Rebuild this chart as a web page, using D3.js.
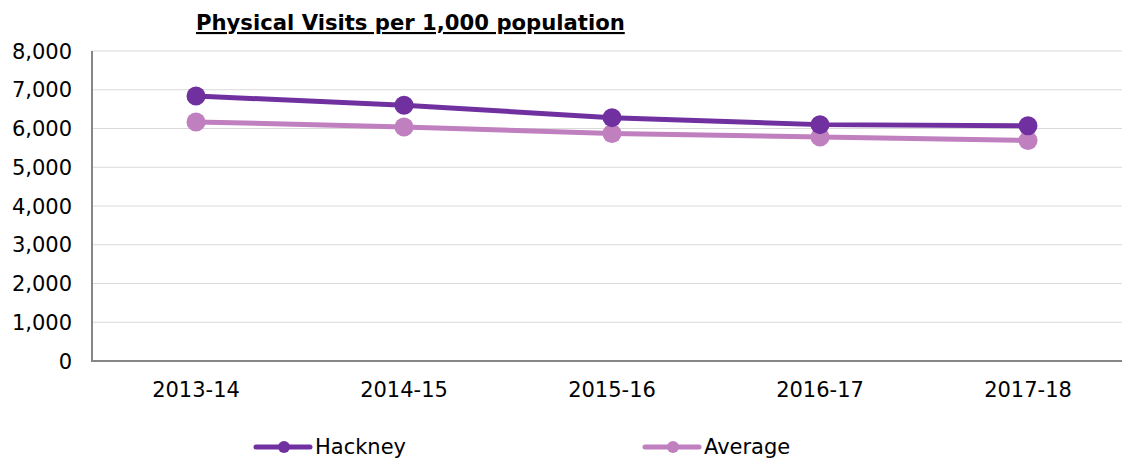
<!doctype html>
<html lang="en">
	<head>
		<meta charset="utf-8">
		<title>Physical Visits per 1,000 population</title>
		<script src="https://d3js.org/d3.v7.min.js"></script>
		<style>
			body { margin: 0; background: #fff; }
			text { font-family: 'DejaVu Sans', Verdana, sans-serif; fill: #000; }
			.grid line { stroke: #d9d9d9; stroke-width: 1; }
		</style>
	</head>
	<body>
		<div id="chart"></div>
		<script>
			let years = ['2013-14', '2014-15', '2015-16', '2016-17', '2017-18']
			let hackney = [6840, 6600, 6280, 6100, 6070]
			let average = [6170, 6040, 5870, 5780, 5690]
			let yTicks = [0, 1000, 2000, 3000, 4000, 5000, 6000, 7000, 8000]

			let width = 1122
			let height = 461
			let plotLeft = 92, plotRight = 1132, plotTop = 51, plotBottom = 361

			let series = [
				{name: 'Hackney', values: hackney, color: '#7030a0'},
				{name: 'Average', values: average, color: '#c07fbf'},
			]

			let svg = d3.select('#chart')
				.append('svg')
				.attr('width', width)
				.attr('height', height)

			let x = d3.scaleBand().domain(years).range([plotLeft, plotRight])
			let y = d3.scaleLinear().domain([0, 8000]).range([plotBottom, plotTop])

			// gridlines
			svg.append('g')
				.attr('class', 'grid')
				.selectAll('line')
				.data(yTicks.slice(1))
				.enter().append('line')
					.attr('x1', plotLeft)
					.attr('x2', width)
					.attr('y1', d => y(d))
					.attr('y2', d => y(d))

			// y axis labels
			svg.append('g')
				.selectAll('text')
				.data(yTicks)
				.enter().append('text')
					.attr('x', 72)
					.attr('y', d => y(d))
					.attr('dy', '0.36em')
					.attr('text-anchor', 'end')
					.style('font-size', '21px')
					.text(d => d3.format(',')(d))

			// x labels
			svg.append('g')
				.selectAll('text')
				.data(years)
				.enter().append('text')
					.attr('x', d => x(d) + x.bandwidth() / 2)
					.attr('y', 397)
					.attr('text-anchor', 'middle')
					.style('font-size', '21px')
					.text(d => d)

			// axis lines
			svg.append('line')
				.attr('x1', plotLeft).attr('x2', plotLeft)
				.attr('y1', plotTop).attr('y2', plotBottom)
				.attr('stroke', '#868686').attr('stroke-width', 2)
			svg.append('line')
				.attr('x1', plotLeft - 1).attr('x2', width)
				.attr('y1', plotBottom).attr('y2', plotBottom)
				.attr('stroke', '#868686').attr('stroke-width', 2)

			let line = d3.line()
				.x((d, i) => x(years[i]) + x.bandwidth() / 2)
				.y(d => y(d))

			series.forEach(s => {
				svg.append('path')
					.datum(s.values)
					.attr('d', line)
					.attr('fill', 'none')
					.attr('stroke', s.color)
					.attr('stroke-width', 5)
					.attr('stroke-linejoin', 'round')
			})
			// markers drawn after both lines
			series.slice().reverse().forEach(s => {
				svg.append('g')
					.selectAll('circle')
					.data(s.values)
					.enter().append('circle')
						.attr('cx', (d, i) => x(years[i]) + x.bandwidth() / 2)
						.attr('cy', d => y(d))
						.attr('r', 9.5)
						.attr('fill', s.color)
			})

			// title
			let title = svg.append('text')
				.attr('x', 196)
				.attr('y', 30)
				.style('font-size', '18px')
				.style('font-weight', 'bold')
				.style('text-decoration', 'underline')
				.text('Physical Visits per 1,000 population')
			let tw = title.node().getComputedTextLength()
			title.style('font-size', (18 * 429 / tw) + 'px')

			// legend
			let legendX = [256, 645]
			series.forEach((s, i) => {
				let g = svg.append('g').attr('transform', `translate(${legendX[i]},447)`)
				g.append('line')
					.attr('x1', 0).attr('x2', 54)
					.attr('stroke', s.color)
					.attr('stroke-width', 5)
					.attr('stroke-linecap', 'round')
				g.append('circle')
					.attr('cx', 28)
					.attr('r', 6)
					.attr('fill', s.color)
				g.append('text')
					.attr('x', 59)
					.attr('dy', '0.34em')
					.style('font-size', '21px')
					.text(s.name)
			})
		</script>
	</body>
</html>
